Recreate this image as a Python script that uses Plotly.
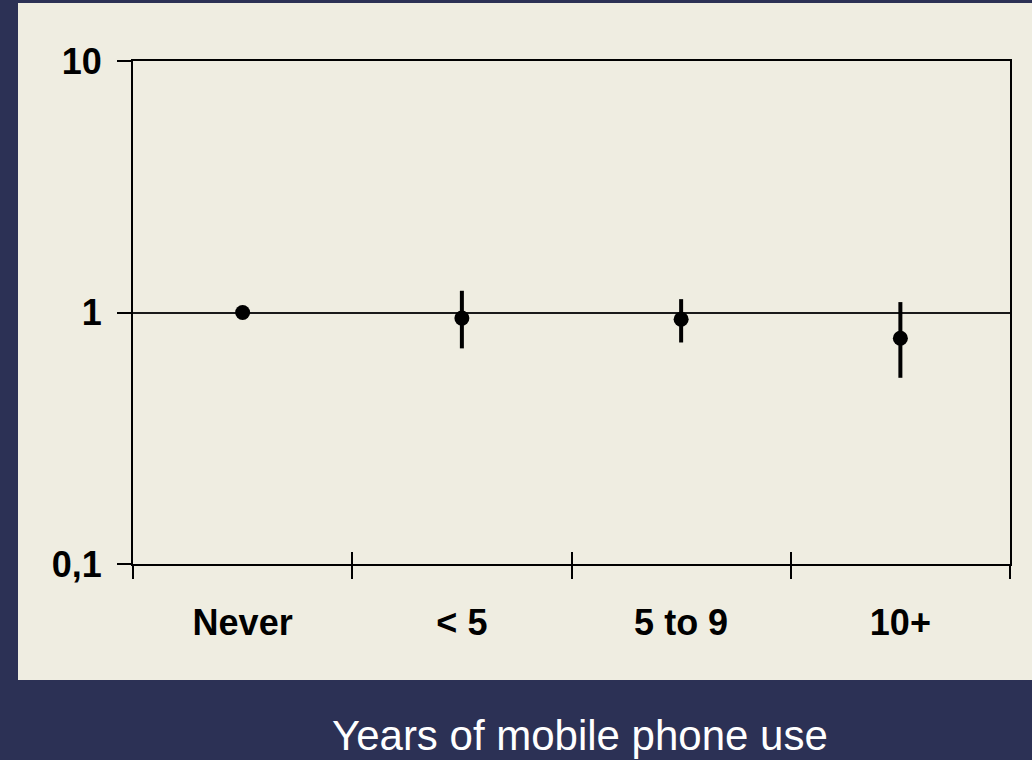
import plotly.graph_objects as go

categories = ["Never", "< 5", "5 to 9", "10+"]
or_values = [1.0, 0.95, 0.94, 0.79]
ci_low = [1.0, 0.72, 0.76, 0.55]
ci_high = [1.0, 1.22, 1.13, 1.10]
y_tickvals = [0.1, 1, 10]
y_ticktext = ["0,1", "1", "10"]
x_title = "Years of mobile phone use"

NAVY = "#2c3155"
BEIGE = "#efede1"
FONT = "Arial, Liberation Sans, sans-serif"

W, H = 1032, 760
ML, MR, MT, MB = 133, 22, 61, 196
PW, PH = W - ML - MR, H - MT - MB


def px_x(p):
    return (p - ML) / PW


def px_y(p):
    return (H - MB - p) / PH


err_plus = [h - v for h, v in zip(ci_high, or_values)]
err_minus = [v - l for v, l in zip(or_values, ci_low)]

fig = go.Figure()
fig.add_trace(go.Scatter(
    x=categories, y=or_values, mode="markers",
    marker=dict(size=15, color="black"),
    error_y=dict(type="data", symmetric=False, array=err_plus,
                 arrayminus=err_minus, thickness=4, width=0, color="black"),
    showlegend=False, hoverinfo="skip",
))
# invisible trace to carry the overlay axis (inside halves of x ticks)
fig.add_trace(go.Scatter(
    x=categories, y=or_values, mode="markers", xaxis="x2",
    marker=dict(size=1, opacity=0), showlegend=False, hoverinfo="skip",
))

fig.update_layout(
    width=W, height=H,
    margin=dict(l=ML, r=MR, t=MT, b=MB),
    paper_bgcolor=NAVY, plot_bgcolor=BEIGE,
    xaxis=dict(
        type="category", categoryorder="array", categoryarray=categories,
        range=[-0.5, len(categories) - 0.5],
        tickson="boundaries", ticks="outside", ticklen=13, tickwidth=1.5,
        tickcolor="black", showline=True, linecolor="black", linewidth=2,
        mirror=True, showgrid=False, zeroline=False,
        tickfont=dict(family=FONT, size=36, color="black", weight="bold"),
        ticklabelstandoff=26,
    ),
    xaxis2=dict(
        type="category", categoryorder="array", categoryarray=categories,
        range=[-0.5, len(categories) - 0.5], overlaying="x",
        tickson="boundaries", ticks="inside", ticklen=12, tickwidth=1.5,
        tickcolor="black", showticklabels=False, showline=False,
        showgrid=False, zeroline=False,
    ),
    yaxis=dict(
        type="log", range=[-1, 1], tickvals=y_tickvals, ticktext=y_ticktext,
        ticks="outside", ticklen=14, tickwidth=1.5, tickcolor="black",
        showline=True, linecolor="black", linewidth=2, mirror=True,
        showgrid=True, gridcolor="#1a1a1a", gridwidth=1.5, zeroline=False,
        tickfont=dict(family=FONT, size=36, color="black", weight="bold"),
        ticklabelstandoff=8,
    ),
    shapes=[dict(
        type="rect", xref="paper", yref="paper", layer="below",
        x0=px_x(18), x1=px_x(1040), y0=px_y(680), y1=px_y(3),
        fillcolor=BEIGE, line=dict(width=0),
    )],
    annotations=[dict(
        text=x_title, xref="paper", yref="paper",
        x=px_x(580), y=px_y(735), xanchor="center", yanchor="middle",
        showarrow=False, font=dict(family=FONT, size=42, color="white"),
    )],
)

fig.write_html(
    "out.html",
    config={"displayModeBar": False},
    post_script="document.body.style.margin='0';document.body.style.overflow='hidden';",
)
